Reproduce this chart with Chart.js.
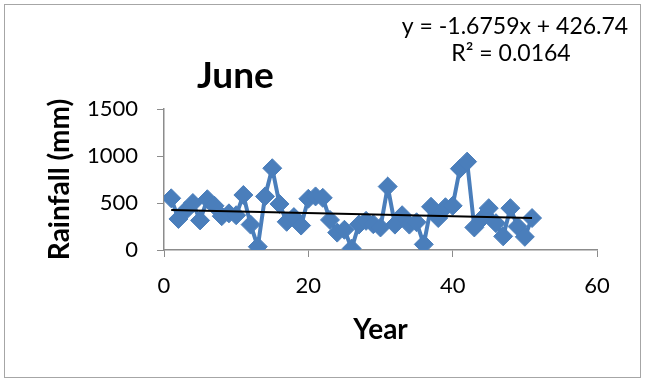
<!DOCTYPE html>
<html>
<head>
<meta charset="utf-8">
<script src="https://cdn.jsdelivr.net/npm/chart.js@4.4.1/dist/chart.umd.min.js"></script>
<style>
  html, body { margin: 0; padding: 0; background: #fff; }
  #wrap { width: 647px; height: 382px; }
</style>
</head>
<body>
<div id="wrap"><canvas id="june-chart" width="647" height="382"></canvas></div>
<script>
// June rainfall, one value per year
var years = [1, 2, 3, 4, 5, 6, 7, 8, 9, 10,
  11, 12, 13, 14, 15, 16, 17, 18, 19, 20,
  21, 22, 23, 24, 25, 26, 27, 28, 29, 30,
  31, 32, 33, 34, 35, 36, 37, 38, 39, 40,
  41, 42, 43, 44, 45, 46, 47, 48, 49, 50, 51];
var rainfall = [550, 330, 420, 500, 315, 540, 470, 360, 390, 370,
  585, 270, 35, 570, 870, 490, 300, 350, 260, 545,
  570, 555, 320, 185, 215, 15, 270, 310, 275, 240,
  675, 270, 370, 270, 295, 60, 460, 340, 455, 470,
  865, 940, 240, 330, 445, 285, 145, 445, 250, 140, 340];
var xTicks = [0, 20, 40, 60];
var yTicks = [0, 500, 1000, 1500];

// trendline as printed on the chart
var slope = -1.6759;
var intercept = 426.74;
var equationText = 'y = -1.6759x + 426.74';
var r2Text = 'R\u00b2 = 0.0164';

var points = years.map(function(x, i) { return { x: x, y: rainfall[i] }; });
var firstYear = years[0], lastYear = years[years.length - 1];
var trend = [
  { x: firstYear, y: slope * firstYear + intercept },
  { x: lastYear, y: slope * lastYear + intercept }
];

var blue = '#4a7ebb';
var axisGray = '#8c8c8c';

var labelsPlugin = {
  id: 'labels',
  afterDraw: function(chart) {
    var ctx = chart.ctx;
    ctx.save();
    ctx.fillStyle = '#000';
    ctx.textBaseline = 'alphabetic';
    ctx.font = 'bold 37px Lato';
    ctx.textAlign = 'left';
    ctx.fillText('June', 197, 88);
    ctx.font = '23px Lato';
    ctx.textAlign = 'center';
    ctx.fillText(equationText, 515, 34);
    ctx.fillText(r2Text, 511, 61);
    ctx.strokeStyle = '#a6a6a6';
    ctx.lineWidth = 1;
    ctx.strokeRect(4.5, 4.5, 636, 373);
    ctx.restore();
  }
};

new Chart(document.getElementById('june-chart'), {
  type: 'scatter',
  data: {
    datasets: [{
      label: 'Linear (June)',
      data: trend,
      showLine: true,
      borderColor: '#000',
      borderWidth: 2,
      pointRadius: 0,
      fill: false
    }, {
      label: 'June',
      data: points,
      showLine: true,
      borderColor: blue,
      backgroundColor: blue,
      borderWidth: 4,
      pointStyle: 'rectRot',
      pointRadius: 9.5,
      pointBorderWidth: 1,
      pointBorderColor: blue,
      pointBackgroundColor: blue,
      fill: false
    }]
  },
  options: {
    responsive: false,
    animation: false,
    layout: { padding: { top: 109, right: 50, bottom: 0, left: 0 } },
    plugins: {
      legend: { display: false },
      title: { display: false },
      tooltip: { enabled: false }
    },
    scales: {
      x: {
        type: 'linear',
        min: 0,
        max: 60,
        afterBuildTicks: function(scale) { scale.ticks = xTicks.map(function(v) { return { value: v }; }); },
        afterFit: function(scale) { scale.height = 132; },
        ticks: {
          padding: 16, color: '#000', font: { family: 'Lato', size: 22 },
          callback: function(v) { return String(v); }
        },
        grid: { display: true, drawOnChartArea: false, drawTicks: true, tickLength: 7, color: axisGray },
        border: { display: true, color: axisGray, width: 1.5 },
        title: {
          display: true,
          text: 'Year',
          color: '#000',
          font: { family: 'Lato', size: 28, weight: 'bold' },
          padding: { top: 0, bottom: 35 }
        }
      },
      y: {
        type: 'linear',
        min: 0,
        max: 1500,
        afterBuildTicks: function(scale) { scale.ticks = yTicks.map(function(v) { return { value: v }; }); },
        afterFit: function(scale) { scale.width = 164; },
        ticks: {
          padding: 19, color: '#000', font: { family: 'Lato', size: 22 },
          callback: function(v) { return String(v); }
        },
        grid: { display: true, drawOnChartArea: false, drawTicks: true, tickLength: 7, color: axisGray },
        border: { display: true, color: axisGray, width: 1.5 },
        title: {
          display: true,
          text: 'Rainfall (mm)',
          color: '#000',
          font: { family: 'Lato', size: 28, weight: 'bold' },
          padding: { top: 43, bottom: 0 }
        }
      }
    }
  },
  plugins: [labelsPlugin]
});
</script>
</body>
</html>
